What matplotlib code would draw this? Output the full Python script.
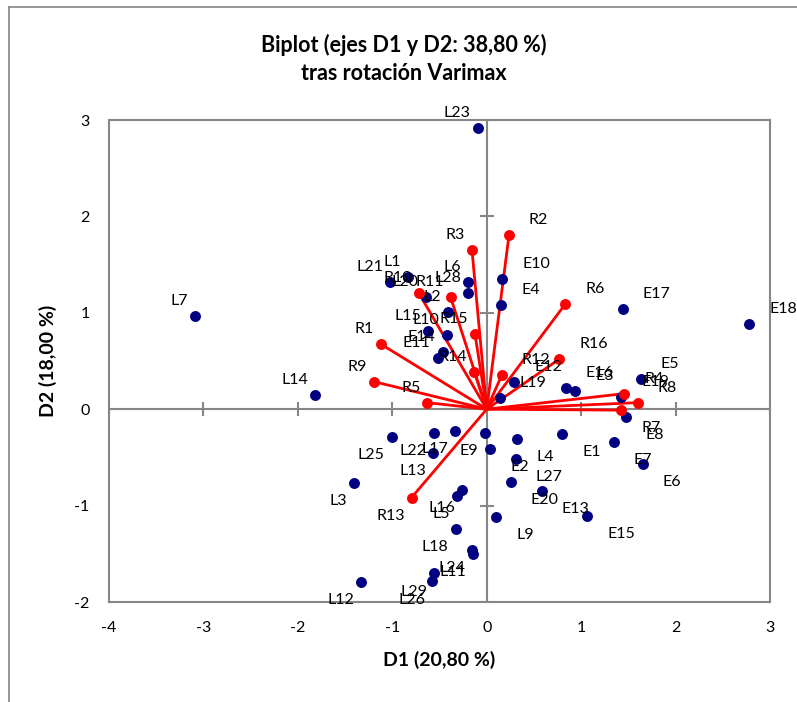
import matplotlib
matplotlib.use("Agg")
import matplotlib.pyplot as plt
from matplotlib.lines import Line2D

plt.rcParams['font.family'] = ['Lato', 'DejaVu Sans']
plt.rcParams['axes.unicode_minus'] = False

# --- observations (blue points) ---
obs_labels = ['L1', 'L2', 'L3', 'L4', 'L5', 'L6', 'L7', 'L9', 'L10', 'L11',
              'L12', 'L13', 'L14', 'L15', 'L16', 'L17', 'L18', 'L19', 'L20', 'L21',
              'L22', 'L23', 'L24', 'L25', 'L26', 'L27', 'L28', 'L29',
              'E1', 'E2', 'E3', 'E4', 'E5', 'E6', 'E7', 'E8', 'E9', 'E10',
              'E11', 'E12', 'E13', 'E14', 'E15', 'E16', 'E17', 'E18', 'E19', 'E20']
obs_d1 = [-0.838, -0.407, -1.407, 0.318, -0.318, -0.195, -3.093, 0.102, -0.424, -0.142,
          -1.330, -0.566, -1.818, -0.619, -0.259, -0.339, -0.329, 0.138, -0.644, -1.025,
          -0.559, -0.095, -0.156, -1.007, -0.580, 0.308, -0.195, -0.556,
          0.802, 0.035, 0.940, 0.152, 1.633, 1.650, 1.343, 1.474, -0.018, 0.162,
          -0.520, 0.293, 0.583, -0.467, 1.064, 0.838, 1.438, 2.778, 1.427, 0.255]
obs_d2 = [1.374, 1.005, -0.767, -0.305, -0.898, 1.322, 0.967, -1.119, 0.770, -1.503,
          -1.797, -0.450, 0.148, 0.815, -0.836, -0.222, -1.240, 0.120, 1.161, 1.322,
          -0.249, 2.912, -1.458, -0.290, -1.787, -0.512, 1.202, -1.704,
          -0.259, -0.415, 0.193, 1.081, 0.311, -0.570, -0.342, -0.077, -0.249, 1.350,
          0.528, 0.280, -0.844, 0.597, -1.109, 0.218, 1.036, 0.881, 0.131, -0.753]

# --- variables (red vectors) ---
var_labels = ['R1', 'R2', 'R3', 'R4', 'R5', 'R6', 'R7', 'R8',
              'R9', 'R10', 'R11', 'R12', 'R13', 'R14', 'R15', 'R16']
var_d1 = [-1.124, 0.236, -0.156, 1.459, -0.630, 0.830, 1.427, 1.601,
          -1.195, -0.718, -0.382, 0.159, -0.795, -0.131, -0.124, 0.767]
var_d2 = [0.677, 1.806, 1.651, 0.162, 0.068, 1.088, -0.010, 0.068,
          0.286, 1.202, 1.161, 0.352, -0.916, 0.383, 0.777, 0.518]

x_ticks = [-4, -3, -2, -1, 0, 1, 2, 3]
y_ticks = [-2, -1, 0, 1, 2, 3]

grey = '#868686'
navy = '#000080'
red = '#FF0000'

fig = plt.figure(figsize=(7.97, 7.02), dpi=100)
ax = fig.add_axes([109 / 797, 1 - 602 / 702, 661 / 797, 482 / 702])


def put_label(x, y, txt):
    # label placed by quadrant, like the original
    if x >= 0:
        dx, ha = 14.4, 'left'
    else:
        dx, ha = -5.0, 'right'
    dy = 10.8 if y >= 0 else -13.0
    ax.annotate(txt, (x, y), xytext=(dx, dy), textcoords='offset points',
                ha=ha, va='center', fontsize=11.5, color='black', zorder=5)


# zero axes with cross ticks
ax.axhline(0, color=grey, lw=1.5, zorder=1)
ax.axvline(0, color=grey, lw=1.5, zorder=1)
ax.plot(x_ticks, [0] * len(x_ticks), '|', ms=10, mew=1.5, color=grey, zorder=1)
ax.plot([0] * len(y_ticks), y_ticks, '_', ms=10, mew=1.5, color=grey, zorder=1)

# vectors
for x, y in zip(var_d1, var_d2):
    ax.plot([0, x], [0, y], color=red, lw=2, zorder=2, solid_capstyle='butt')
ax.scatter(obs_d1, obs_d2, s=62, color=navy, zorder=3, linewidths=0)
ax.scatter(var_d1, var_d2, s=62, color=red, zorder=4, linewidths=0)

for x, y, t in zip(obs_d1, obs_d2, obs_labels):
    put_label(x, y, t)
for x, y, t in zip(var_d1, var_d2, var_labels):
    put_label(x, y, t)

ax.set_xlim(-4, 3)
ax.set_ylim(-2, 3)
ax.set_xticks(x_ticks)
ax.set_yticks(y_ticks)
ax.tick_params(length=0, labelsize=11.5, pad=14)
for s in ax.spines.values():
    s.set_color(grey)
    s.set_linewidth(1.5)

fig.text(404 / 797, 1 - 45 / 702, 'Biplot (ejes D1 y D2: 38,80 %)', ha='center', va='center',
         fontsize=15.5, fontweight='bold')
fig.text(404 / 797, 1 - 74 / 702, 'tras rotación Varimax', ha='center', va='center',
         fontsize=15.5, fontweight='bold')
fig.text(439.5 / 797, 1 - 660 / 702, 'D1 (20,80 %)', ha='center', va='center',
         fontsize=14, fontweight='bold')
fig.text(48 / 797, 1 - 361 / 702, 'D2 (18,00 %)', ha='center', va='center',
         fontsize=14, fontweight='bold', rotation=90)

# outer chart-area border (cut by the image edges)
fig.add_artist(Line2D([9 / 797, 9 / 797], [0, 1 - 7 / 702], transform=fig.transFigure,
                      color=grey, lw=1.2))
fig.add_artist(Line2D([9 / 797, 1], [1 - 7 / 702, 1 - 7 / 702], transform=fig.transFigure,
                      color=grey, lw=1.2))

fig.savefig('out.png', dpi=100)
